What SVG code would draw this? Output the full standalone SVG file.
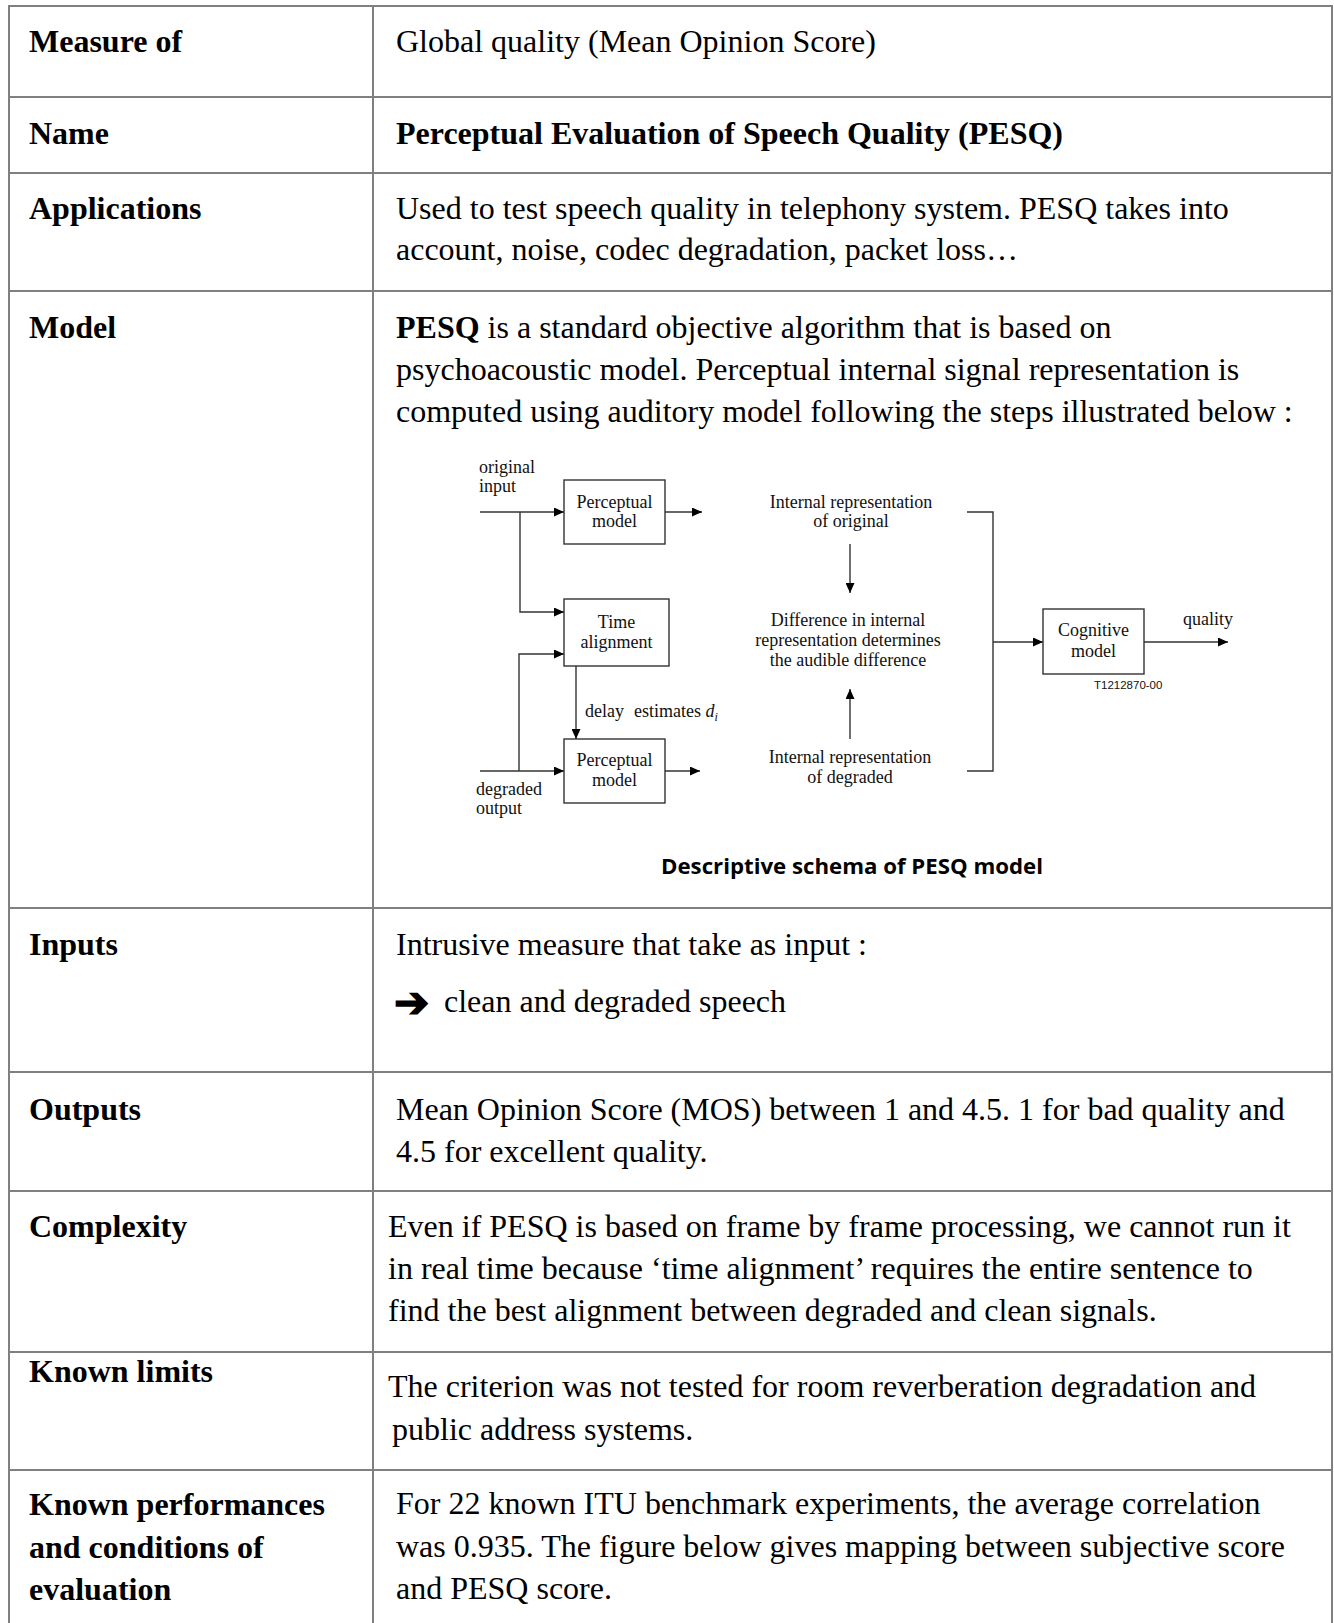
<svg xmlns="http://www.w3.org/2000/svg" width="1334" height="1623" viewBox="0 0 1334 1623">
<style>
.grid{stroke:#808080;stroke-width:2;fill:none}
.lbl{font-family:"Liberation Serif","Times New Roman",serif;font-size:32px;font-weight:bold;fill:#000}
.txt{font-family:"Liberation Serif","Times New Roman",serif;font-size:32px;fill:#000}
.dg{font-family:"Liberation Serif","Times New Roman",serif;font-size:18px;fill:#111}
.dgm{font-family:"Liberation Serif","Times New Roman",serif;font-size:18px;fill:#111;text-anchor:middle}
.box{fill:#fff;stroke:#333;stroke-width:1.4}
.ln{stroke:#333;stroke-width:1.4;fill:none}
.cap{font-family:"Open Sans","Liberation Sans",sans-serif;font-size:21px;font-weight:bold;fill:#000}
.code{font-family:"Liberation Sans",Arial,sans-serif;font-size:11.5px;fill:#111}
</style>
<defs>
<marker id="ah" markerWidth="10" markerHeight="9" refX="10" refY="4.5" orient="auto" markerUnits="userSpaceOnUse">
<path d="M0,0 L10,4.5 L0,9 z" fill="#000"/>
</marker>
</defs>
<rect x="0" y="0" width="1334" height="1623" fill="#fff"/>
<g id="table-grid" class="grid">
<line x1="9" y1="6" x2="1332" y2="6"/>
<line x1="9" y1="97" x2="1332" y2="97"/>
<line x1="9" y1="173" x2="1332" y2="173"/>
<line x1="9" y1="291" x2="1332" y2="291"/>
<line x1="9" y1="908" x2="1332" y2="908"/>
<line x1="9" y1="1072" x2="1332" y2="1072"/>
<line x1="9" y1="1191" x2="1332" y2="1191"/>
<line x1="9" y1="1352" x2="1332" y2="1352"/>
<line x1="9" y1="1470" x2="1332" y2="1470"/>
<line x1="9" y1="5" x2="9" y2="1623"/>
<line x1="373" y1="5" x2="373" y2="1623"/>
<line x1="1332" y1="5" x2="1332" y2="1623"/>
</g>
<g id="row-measure">
<text class="lbl" x="29" y="52">Measure of</text>
<text class="txt" x="396" y="52">Global quality (Mean Opinion Score)</text>
</g>
<g id="row-name">
<text class="lbl" x="29" y="144">Name</text>
<text class="lbl" x="396" y="144">Perceptual Evaluation of Speech Quality (PESQ)</text>
</g>
<g id="row-applications">
<text class="lbl" x="29" y="219">Applications</text>
<text class="txt" x="396" y="219">Used to test speech quality in telephony system. PESQ takes into</text>
<text class="txt" x="396" y="260">account, noise, codec degradation, packet loss…</text>
</g>
<g id="row-model">
<text class="lbl" x="29" y="338">Model</text>
<text class="txt" x="396" y="338"><tspan font-weight="bold">PESQ</tspan> is a standard objective algorithm that is based on</text>
<text class="txt" x="396" y="380">psychoacoustic model. Perceptual internal signal representation is</text>
<text class="txt" x="396" y="422">computed using auditory model following the steps illustrated below :</text>
</g>
<g id="diagram">
<g id="connectors">
<polyline class="ln" points="480,512 564,512" marker-end="url(#ah)"/>
<polyline class="ln" points="520,512 520,612 564,612" marker-end="url(#ah)"/>
<polyline class="ln" points="480,771 564,771" marker-end="url(#ah)"/>
<polyline class="ln" points="519,771 519,654 564,654" marker-end="url(#ah)"/>
<polyline class="ln" points="576,666 576,739" marker-end="url(#ah)"/>
<polyline class="ln" points="665,512 702,512" marker-end="url(#ah)"/>
<polyline class="ln" points="665,771 700,771" marker-end="url(#ah)"/>
<polyline class="ln" points="850,544 850,593" marker-end="url(#ah)"/>
<polyline class="ln" points="850,739 850,689" marker-end="url(#ah)"/>
<polyline class="ln" points="967,512 993,512 993,771 967,771"/>
<polyline class="ln" points="993,642 1043,642" marker-end="url(#ah)"/>
<polyline class="ln" points="1144,642 1228,642" marker-end="url(#ah)"/>
</g>
<g id="lbl-original-input">
<text class="dg" x="479" y="473">original</text>
<text class="dg" x="479" y="492">input</text>
</g>
<g id="lbl-degraded-output">
<text class="dg" x="476" y="795">degraded</text>
<text class="dg" x="476" y="814">output</text>
</g>
<g id="node-perceptual-top">
<rect class="box" x="564" y="480" width="101" height="64"/>
<text class="dgm" x="614.5" y="508">Perceptual</text>
<text class="dgm" x="614.5" y="527">model</text>
</g>
<g id="node-time-alignment">
<rect class="box" x="564" y="599" width="105" height="67"/>
<text class="dgm" x="616.5" y="628">Time</text>
<text class="dgm" x="616.5" y="648">alignment</text>
</g>
<g id="lbl-delay">
<text class="dg" x="585" y="717">delay</text>
<text class="dg" x="634" y="717">estimates <tspan font-style="italic">d</tspan><tspan font-style="italic" font-size="12" dy="4">i</tspan></text>
</g>
<g id="node-perceptual-bottom">
<rect class="box" x="564" y="739" width="101" height="64"/>
<text class="dgm" x="614.5" y="766">Perceptual</text>
<text class="dgm" x="614.5" y="786">model</text>
</g>
<g id="node-int-original">
<text class="dgm" x="851" y="508">Internal representation</text>
<text class="dgm" x="851" y="527">of original</text>
</g>
<g id="node-difference">
<text class="dgm" x="848" y="626">Difference in internal</text>
<text class="dgm" x="848" y="646">representation determines</text>
<text class="dgm" x="848" y="666">the audible difference</text>
</g>
<g id="node-int-degraded">
<text class="dgm" x="850" y="763">Internal representation</text>
<text class="dgm" x="850" y="783">of degraded</text>
</g>
<g id="node-cognitive">
<rect class="box" x="1043" y="609" width="101" height="65"/>
<text class="dgm" x="1093.5" y="636">Cognitive</text>
<text class="dgm" x="1093.5" y="657">model</text>
</g>
<g id="lbl-quality">
<text class="dg" x="1183" y="625">quality</text>
</g>
<g id="lbl-code">
<text class="code" x="1094" y="689">T1212870-00</text>
</g>
</g>
<g id="caption">
<text class="cap" x="661" y="874" textLength="382" lengthAdjust="spacingAndGlyphs">Descriptive schema of PESQ model</text>
</g>
<g id="row-inputs">
<text class="lbl" x="29" y="955">Inputs</text>
<text class="txt" x="396" y="955">Intrusive measure that take as input :</text>
<text x="394" y="1017" font-family="DejaVu Sans,sans-serif" font-size="42" font-weight="bold" fill="#000" stroke="#000" stroke-width="1.5">➔</text>
<text class="txt" x="444" y="1012">clean and degraded speech</text>
</g>
<g id="row-outputs">
<text class="lbl" x="29" y="1120">Outputs</text>
<text class="txt" x="396" y="1120">Mean Opinion Score (MOS) between 1 and 4.5. 1 for bad quality and</text>
<text class="txt" x="396" y="1162">4.5 for excellent quality.</text>
</g>
<g id="row-complexity">
<text class="lbl" x="29" y="1237">Complexity</text>
<text class="txt" x="388" y="1237">Even if PESQ is based on frame by frame processing, we cannot run it</text>
<text class="txt" x="388" y="1279">in real time because ‘time alignment’ requires the entire sentence to</text>
<text class="txt" x="388" y="1321">find the best alignment between degraded and clean signals.</text>
</g>
<g id="row-limits">
<text class="lbl" x="29" y="1382">Known limits</text>
<text class="txt" x="388" y="1397">The criterion was not tested for room reverberation degradation and</text>
<text class="txt" x="392" y="1440">public address systems.</text>
</g>
<g id="row-performances">
<text class="lbl" x="29" y="1515">Known performances</text>
<text class="lbl" x="29" y="1558">and conditions of</text>
<text class="lbl" x="29" y="1600">evaluation</text>
<text class="txt" x="396" y="1514">For 22 known ITU benchmark experiments, the average correlation</text>
<text class="txt" x="396" y="1557">was 0.935. The figure below gives mapping between subjective score</text>
<text class="txt" x="396" y="1599">and PESQ score.</text>
</g>
</svg>
